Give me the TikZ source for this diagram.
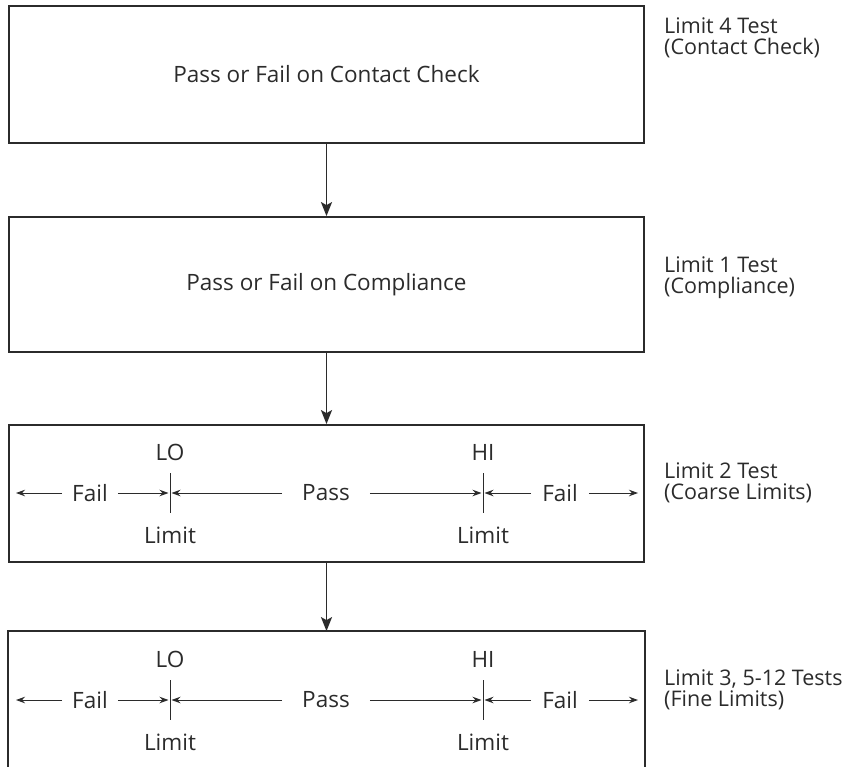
\documentclass[tikz,border=0pt]{standalone}
\usepackage{fontspec}
\setmainfont{Open Sans}
\usetikzlibrary{arrows.meta}

\definecolor{ink}{HTML}{2B2B2B}

\tikzset{
  stagebox/.style={draw=ink, line width=1.8pt, minimum width=635pt, inner sep=0pt},
  flowarr/.style={ink, line width=1.7pt, -{Stealth[length=14pt, width=11pt, inset=3pt]}},
  limarr/.style={ink, line width=0.9pt, -{Stealth[length=9pt, width=6.5pt]}},
  limtick/.style={ink, line width=0.9pt},
  lbl/.style={text=ink, font=\fontsize{22.5}{24}\selectfont, inner sep=0pt},
  sidelbl/.style={lbl, anchor=west, align=left, font=\fontsize{21.5}{21}\selectfont}
}

\begin{document}
\begin{tikzpicture}[x=1pt,y=-1pt]
\useasboundingbox (0,0) rectangle (859,766);

% the four stages
\node[stagebox, minimum height=137pt] (contact) at (326.5,74.5) {};
\node[stagebox, minimum height=135pt] (compl) at (326.5,284.5) {};
\node[stagebox, minimum height=137pt] (coarse) at (326.5,493.5) {};
\node[stagebox, draw=none, minimum height=136pt] (fine) at (326.5,700) {};
\draw[ink, line width=1.8pt] (fine.south west) |- (fine.north east) -- (fine.south east);

\node[lbl] (contacttxt) at (contact.center) {Pass or Fail on Contact Check};
\node[lbl] (compltxt) at (compl.center) {Pass or Fail on Compliance};

\draw[flowarr] (contact.south) -- (compl.north);
\draw[flowarr] (compl.south) -- (coarse.north);
\draw[flowarr] (coarse.south) -- (fine.north);

% LO / HI limit scales
\foreach \bx/\ty in {coarse/425,fine/632}{
  \coordinate (\bx lo) at (170,\ty+68);
  \coordinate (\bx hi) at (483,\ty+68);
  \coordinate (\bx l) at (16,\ty+68);
  \coordinate (\bx r) at (638,\ty+68);
  \draw[limtick] ([yshift=20pt]\bx lo) -- ([yshift=-20pt]\bx lo);
  \draw[limtick] ([yshift=20pt]\bx hi) -- ([yshift=-20pt]\bx hi);
  \node[lbl] (\bx lotxt) at (170,\ty+27) {LO};
  \node[lbl] (\bx hitxt) at (483,\ty+27) {HI};
  \node[lbl] (\bx lolim) at (170,\ty+110) {Limit};
  \node[lbl] (\bx hilim) at (483,\ty+110) {Limit};
  \node[lbl, inner xsep=10pt] (\bx fl) at (90,\ty+68) {Fail};
  \node[lbl, inner xsep=20pt] (\bx ps) at (326,\ty+68) {Pass};
  \node[lbl, inner xsep=11pt] (\bx fr) at (560,\ty+68) {Fail};
  \draw[limarr] (\bx fl.west) -- (\bx l);
  \draw[limarr, shorten >=1.5pt] (\bx fl.east) -- (\bx lo);
  \draw[limarr, shorten >=1.5pt] (\bx ps.west) -- (\bx lo);
  \draw[limarr, shorten >=1.5pt] (\bx ps.east) -- (\bx hi);
  \draw[limarr, shorten >=1.5pt] (\bx fr.west) -- (\bx hi);
  \draw[limarr] (\bx fr.east) -- (\bx r);
}

% test names
\node[sidelbl] (contactname) at (664,38) {Limit 4 Test\\(Contact Check)};
\node[sidelbl] (complname) at (664,278) {Limit 1 Test\\(Compliance)};
\node[sidelbl] (coarsename) at (664,483) {Limit 2 Test\\(Coarse Limits)};
\node[sidelbl] (finename) at (664,690) {Limit 3, 5-12 Tests\\(Fine Limits)};
\end{tikzpicture}
\end{document}
